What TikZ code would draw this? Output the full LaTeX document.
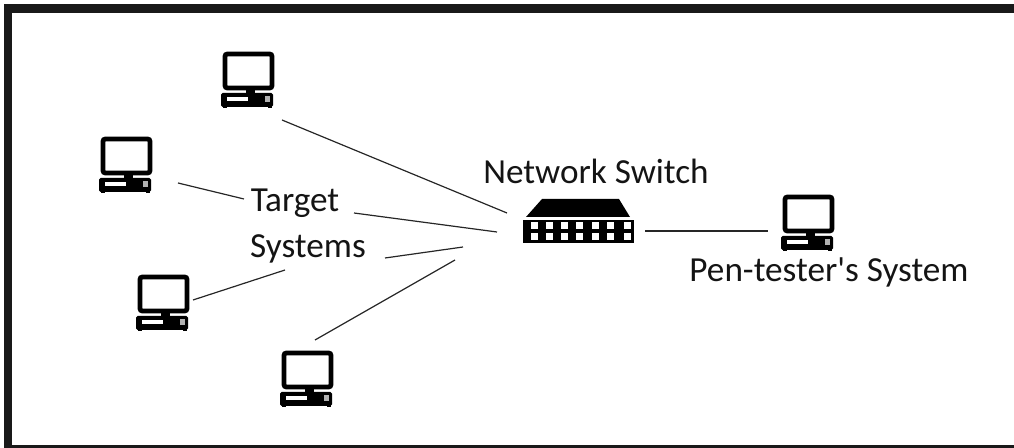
\documentclass[tikz,border=0pt]{standalone}
\usepackage{fontspec}
\setmainfont{Carlito}
\tikzset{
  computer/.style={minimum width=27pt, minimum height=29pt, inner sep=0pt, outer sep=0pt,
    path picture={
      \begin{scope}[shift={(path picture bounding box.center)}]
        \draw [line width=2.4pt, rounded corners=1.2pt] (-23,-26) rectangle (24,8);
        \fill (-2,10) rectangle (7,15);
        \fill [rounded corners=0.8pt] (-27,13) rectangle (25,27);
        \fill (-25,26) rectangle (-21,28);
        \fill (20,26) rectangle (24,28);
        \fill [white] (-21,17) rectangle (0,21);
        \fill [gray!60] (17,16) rectangle (22,22);
      \end{scope}
    }},
  label/.style={font=\fontsize{17.6}{20}\selectfont, inner sep=0pt, text=black!92},
  link/.style={line width=0.6pt, black!85},
  hole/.style={fill=white},
}
\begin{document}
\begin{tikzpicture}[x=0.5pt, y=-0.5pt]
    \useasboundingbox (0,0) rectangle (1014,448);
    \fill [black!90] (4,4) rectangle (1014,13.5);
    \fill [black!90] (4,4) rectangle (12,448);
    \fill [black!90] (4,445) rectangle (1014,448);
    % computers
    \node (pcA) [computer] at (248,80) {};
    \node (pcB) [computer] at (126,165) {};
    \node (pcC) [computer] at (163,303) {};
    \node (pcD) [computer] at (307,379) {};
    \node (pcTester) [computer] at (808,223) {};
    % switch
    \node (switch) at (579,222) [minimum width=55pt, minimum height=22pt, inner sep=0pt] {};
    \fill (542,199) -- (619,199) -- (630,217) -- (526,217) -- cycle;
    \fill (523,220) rectangle (634,243);
    \foreach \x in {534,549,564,579,595,610,627} {
      \fill [hole] (\x-3.5,222.5) rectangle ++(7,7);
      \fill [hole] (\x-3.5,233.5) rectangle ++(7,7);
    }
    % labels
    \node (netlabel) [label] at (596,171) {Network Switch};
    \node (target) [label] at (295,203) {Target};
    \node (systems) [label] at (308,249) {Systems};
    \node (tester) [label] at (829,272) {Pen-tester\textquotesingle s System};
    % link ends
    \coordinate (a1) at (282,120);
    \coordinate (a2) at (507,213);
    \coordinate (b1) at (178,183);
    \coordinate (b2) at (244,199);
    \coordinate (c1) at (354,213);
    \coordinate (c2) at (497,232);
    \coordinate (d1) at (385,258);
    \coordinate (d2) at (463,247);
    \coordinate (e1) at (193,300);
    \coordinate (e2) at (285,270);
    \coordinate (f1) at (315,340);
    \coordinate (f2) at (455,260);
    \coordinate (g1) at (645,231);
    \coordinate (g2) at (768,231);
    \foreach \p/\q in {a1/a2,b1/b2,c1/c2,d1/d2,e1/e2,f1/f2,g1/g2}
      \draw [link] (\p) -- (\q);
\end{tikzpicture}
\end{document}
